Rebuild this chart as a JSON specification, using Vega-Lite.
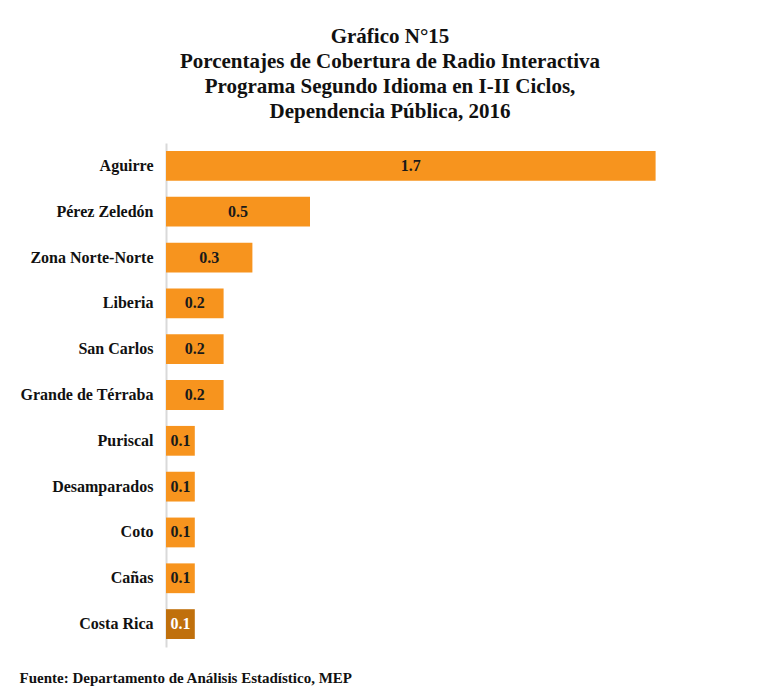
{
  "$schema": "https://vega.github.io/schema/vega-lite/v6.json",
  "width": 576,
  "height": 504,
  "autosize": {"type": "none"},
  "padding": {"left": 166, "top": 143, "right": 15, "bottom": 39},
  "background": "white",
  "title": {
    "text": ["Gráfico N°15", "Porcentajes de Cobertura de Radio Interactiva", "Programa Segundo Idioma en I-II Ciclos,", "Dependencia Pública, 2016"],
    "font": "Liberation Serif",
    "fontSize": 21,
    "fontWeight": "bold",
    "color": "#111111",
    "anchor": "middle",
    "dx": -64,
    "lineHeight": 25,
    "offset": 21
  },
  "data": {
    "values": [
      {"region": "Aguirre", "v": 1.7, "cr": false},
      {"region": "Pérez Zeledón", "v": 0.5, "cr": false},
      {"region": "Zona Norte-Norte", "v": 0.3, "cr": false},
      {"region": "Liberia", "v": 0.2, "cr": false},
      {"region": "San Carlos", "v": 0.2, "cr": false},
      {"region": "Grande de Térraba", "v": 0.2, "cr": false},
      {"region": "Puriscal", "v": 0.1, "cr": false},
      {"region": "Desamparados", "v": 0.1, "cr": false},
      {"region": "Coto", "v": 0.1, "cr": false},
      {"region": "Cañas", "v": 0.1, "cr": false},
      {"region": "Costa Rica", "v": 0.1, "cr": true}
    ]
  },
  "encoding": {
    "y": {
      "field": "region",
      "type": "nominal",
      "sort": null,
      "scale": {"paddingInner": 0.35, "paddingOuter": 0.175},
      "axis": {
        "title": null,
        "ticks": false,
        "labelPadding": 13,
        "labelFont": "Liberation Serif",
        "labelFontSize": 16,
        "labelFontWeight": "bold",
        "labelColor": "#111111",
        "domainColor": "#d9d9d9",
        "domainWidth": 2
      }
    }
  },
  "layer": [
    {
      "mark": {"type": "bar"},
      "encoding": {
        "x": {
          "field": "v",
          "type": "quantitative",
          "scale": {"domain": [0, 2], "nice": false},
          "axis": {
            "labels": false,
            "ticks": false,
            "domain": false,
            "grid": false,
            "title": "Fuente:  Departamento   de Análisis Estadístico,  MEP",
            "titleFont": "Liberation Serif",
            "titleFontSize": 15,
            "titleFontWeight": "bold",
            "titleColor": "#111111",
            "titleAnchor": "start",
            "titleAlign": "left",
            "titleBaseline": "alphabetic",
            "titleX": -147,
            "titleY": 35
          }
        },
        "color": {
          "field": "cr",
          "type": "nominal",
          "scale": {"domain": [false, true], "range": ["#F7941E", "#C0700C"]},
          "legend": null
        }
      }
    },
    {
      "transform": [{"calculate": "datum.v / 2", "as": "mid"}],
      "mark": {"type": "text", "font": "Liberation Serif", "fontSize": 16, "fontWeight": "bold", "align": "center", "baseline": "middle"},
      "encoding": {
        "x": {"field": "mid", "type": "quantitative"},
        "text": {"field": "v", "type": "quantitative", "format": ".1f"},
        "color": {
          "field": "cr",
          "type": "nominal",
          "scale": {"domain": [false, true], "range": ["#1a1a1a", "#ffffff"]},
          "legend": null
        }
      }
    }
  ],
  "resolve": {"scale": {"color": "independent"}},
  "config": {"view": {"stroke": null}}
}
